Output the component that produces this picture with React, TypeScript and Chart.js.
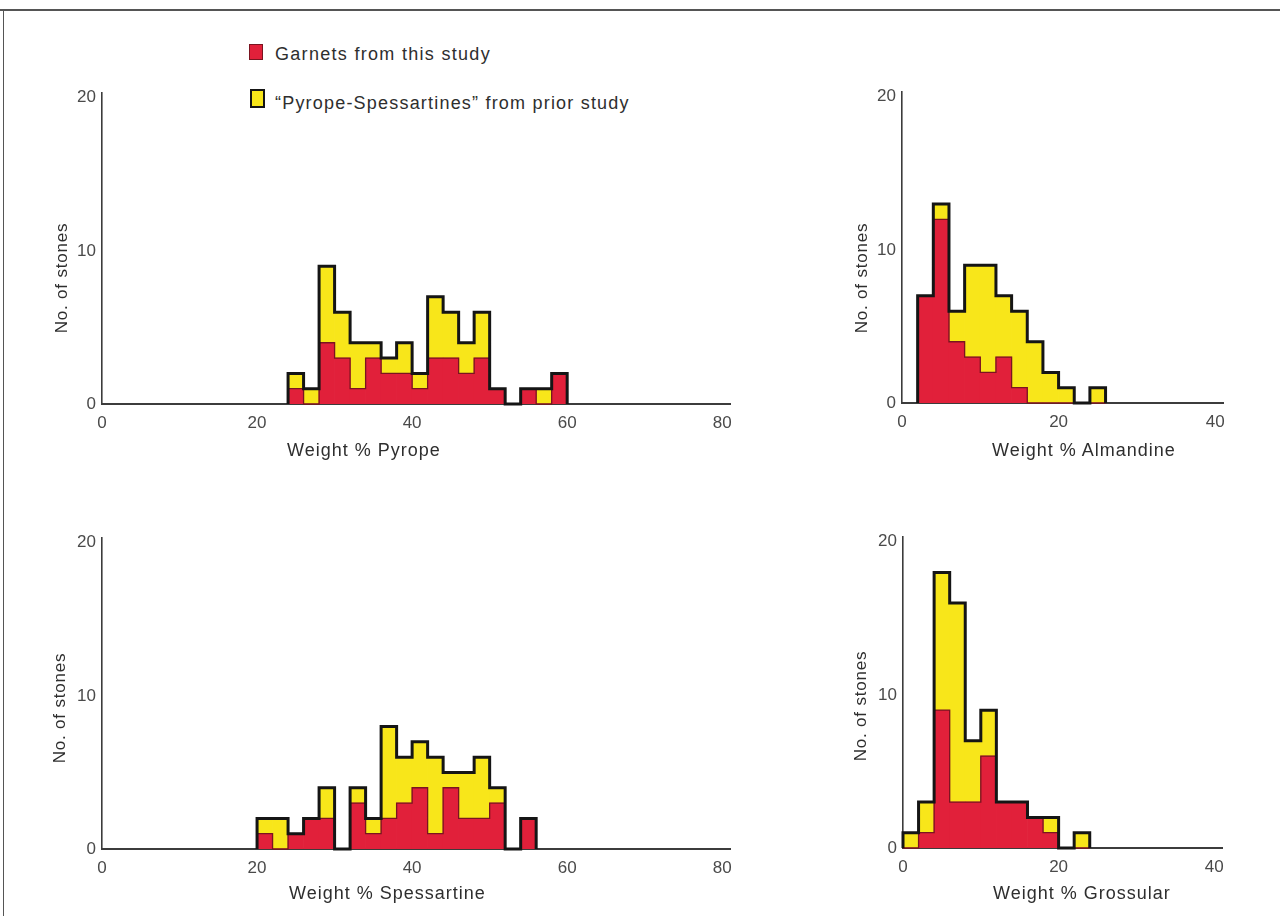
import React, { useEffect, useRef } from "react";
import { Chart, registerables } from "chart.js";

Chart.register(...registerables);

// ---- data (counts per 2 wt% bin) ----
const BIN_WIDTH = 2;

const pyropeBinStart = 24;
const pyropeThisStudy = [1, 0, 4, 3, 1, 3, 2, 2, 1, 3, 3, 2, 3, 1, 0, 1, 0, 2];
const pyropePriorStudy = [1, 1, 5, 3, 3, 1, 1, 2, 1, 4, 3, 2, 3, 0, 0, 0, 1, 0];

const almandineBinStart = 2;
const almandineThisStudy = [7, 12, 4, 3, 2, 3, 1, 0, 0, 0, 0, 0];
const almandinePriorStudy = [0, 1, 2, 6, 7, 4, 5, 4, 2, 1, 0, 1];

const spessartineBinStart = 20;
const spessartineThisStudy = [1, 0, 1, 2, 2, 0, 3, 1, 2, 3, 4, 1, 4, 2, 2, 3, 0, 2];
const spessartinePriorStudy = [1, 2, 0, 0, 2, 0, 1, 1, 6, 3, 3, 5, 1, 3, 4, 1, 0, 0];

const grossularBinStart = 0;
const grossularThisStudy = [0, 1, 9, 3, 3, 6, 3, 3, 2, 1, 0, 0];
const grossularPriorStudy = [1, 2, 9, 13, 4, 3, 0, 0, 0, 1, 0, 1];

const wideTicks = [0, 20, 40, 60, 80];
const narrowTicks = [0, 20, 40];
const countTicks = [0, 10, 20];

const legendLabels = ["Garnets from this study", "\u201cPyrope-Spessartines\u201d from prior study"];
const yTitle = "No. of stones";

// ---- styles ----
const RED = "#e1203a";
const YELLOW = "#f8e61a";
const OUTLINE = "#151515";
const RED_EDGE = "#7a1420";
const AXIS = "#3c3c3c";
const TICK = "#4a4a4a";
const FONT = "'Liberation Sans', Arial, sans-serif";

type PanelProps = {
  left: number; top: number; right: number; bottom: number;
  xMax: number; xTicks: number[];
  binStart: number; thisStudy: number[]; prior: number[];
};

const Y_AXIS_W = 50;
const X_AXIS_H = 40;
const PAD_T = 14;
const PAD_R = 24;

function stepPoints(binStart: number, vals: number[]) {
  const pts = [{ x: binStart, y: 0 }];
  vals.forEach((v, i) => pts.push({ x: binStart + BIN_WIDTH * i, y: v }));
  pts.push({ x: binStart + BIN_WIDTH * vals.length, y: 0 });
  return pts;
}

function Panel(p: PanelProps) {
  const ref = useRef<HTMLCanvasElement>(null);
  const w = Y_AXIS_W + (p.right - p.left) + PAD_R;
  const h = PAD_T + (p.bottom - p.top) + X_AXIS_H;
  useEffect(() => {
    if (!ref.current) return;
    const centers = p.thisStudy.map((_, i) => p.binStart + BIN_WIDTH * (i + 0.5));
    const totals = p.thisStudy.map((v, i) => v + p.prior[i]);
    const chart = new Chart(ref.current, {
      type: "bar",
      data: {
        datasets: [
          {
            type: "line", label: "outline", data: stepPoints(p.binStart, totals) as any,
            stepped: "before", borderColor: OUTLINE, borderWidth: 3, pointRadius: 0,
            fill: false, stack: "outline", order: 0, clip: false as any,
            borderJoinStyle: "miter", borderCapStyle: "butt",
          } as any,
          {
            type: "line", label: "edge", data: stepPoints(p.binStart, p.thisStudy) as any,
            stepped: "before", borderColor: RED_EDGE, borderWidth: 1.3, pointRadius: 0,
            fill: false, stack: "edge", order: 1, clip: false as any,
            borderJoinStyle: "miter",
          } as any,
          {
            type: "bar", label: legendLabels[0],
            data: centers.map((x, i) => ({ x, y: p.thisStudy[i] })) as any,
            backgroundColor: RED, borderWidth: 0, barPercentage: 1, categoryPercentage: 1,
            stack: "bars", order: 2,
          },
          {
            type: "bar", label: legendLabels[1],
            data: centers.map((x, i) => ({ x, y: p.prior[i] })) as any,
            backgroundColor: YELLOW, borderWidth: 0, barPercentage: 1, categoryPercentage: 1,
            stack: "bars", order: 3,
          },
        ],
      },
      options: {
        animation: false,
        responsive: false,
        devicePixelRatio: 1,
        layout: { padding: { top: PAD_T, right: PAD_R, left: 0, bottom: 0 } },
        plugins: { legend: { display: false }, tooltip: { enabled: false } },
        scales: {
          x: {
            type: "linear", min: 0, max: p.xMax, offset: false,
            grid: { display: false, drawTicks: false, tickLength: 0, offset: false },
            border: { display: true, color: AXIS, width: 2 },
            ticks: { color: TICK, font: { family: FONT, size: 17 }, padding: 9, maxRotation: 0, autoSkip: false },
            afterBuildTicks: (axis: any) => { axis.ticks = p.xTicks.map((v) => ({ value: v })); },
            afterFit: (axis: any) => { axis.height = X_AXIS_H; },
          },
          y: {
            type: "linear", min: 0, max: 20.3, stacked: true,
            grid: { display: false, drawTicks: false, tickLength: 0 },
            border: { display: true, color: AXIS, width: 1.6 },
            ticks: { color: TICK, font: { family: FONT, size: 17 }, padding: 6, autoSkip: false },
            afterBuildTicks: (axis: any) => { axis.ticks = countTicks.map((v) => ({ value: v })); },
            afterFit: (axis: any) => { axis.width = Y_AXIS_W; },
          },
        },
      },
    });
    return () => chart.destroy();
  }, []);
  return (
    <canvas
      ref={ref}
      width={w}
      height={h}
      style={{ position: "absolute", left: p.left - Y_AXIS_W, top: p.top - PAD_T, width: w, height: h }}
    />
  );
}

const textBase: React.CSSProperties = {
  position: "absolute", fontFamily: FONT, color: "#2e2e2e", whiteSpace: "nowrap",
  fontSize: 18, letterSpacing: "1px", lineHeight: "20px",
};

function XTitle({ x, y, text }: { x: number; y: number; text: string }) {
  return <div style={{ ...textBase, left: x, top: y - 10 }}>{text}</div>;
}

function YTitle({ x, y }: { x: number; y: number }) {
  return (
    <div style={{ ...textBase, fontSize: 17, letterSpacing: "0.8px", left: x, top: y, transform: "translate(-50%, -50%) rotate(-90deg)" }}>
      {yTitle}
    </div>
  );
}

export default function App() {
  return (
    <div style={{ position: "fixed", left: 0, top: 0, width: 1280, height: 916, background: "#fff", overflow: "hidden" }}>
      <div style={{ position: "absolute", left: 0, top: 9, width: 1280, height: 0, borderTop: "2px solid #555" }} />
      <div style={{ position: "absolute", left: 3, top: 9, width: 0, height: 907, borderLeft: "1.5px solid #555" }} />

      <div style={{ position: "absolute", left: 249, top: 44, width: 14, height: 16, background: RED, border: "1px solid #7a1420", boxSizing: "border-box" }} />
      <div style={{ ...textBase, fontSize: 18, letterSpacing: "1.3px", left: 275, top: 44 }}>{legendLabels[0]}</div>
      <div style={{ position: "absolute", left: 250, top: 89, width: 15, height: 19, background: YELLOW, border: "2.5px solid #151515", boxSizing: "border-box" }} />
      <div style={{ ...textBase, fontSize: 18, letterSpacing: "1.2px", left: 275, top: 93 }}>{legendLabels[1]}</div>

      <Panel left={102} top={91} right={730} bottom={404} xMax={81} xTicks={wideTicks}
        binStart={pyropeBinStart} thisStudy={pyropeThisStudy} prior={pyropePriorStudy} />
      <Panel left={902} top={90} right={1223} bottom={403} xMax={41} xTicks={narrowTicks}
        binStart={almandineBinStart} thisStudy={almandineThisStudy} prior={almandinePriorStudy} />
      <Panel left={102} top={536} right={730} bottom={849} xMax={81} xTicks={wideTicks}
        binStart={spessartineBinStart} thisStudy={spessartineThisStudy} prior={spessartinePriorStudy} />
      <Panel left={903} top={535} right={1222} bottom={848} xMax={41} xTicks={narrowTicks}
        binStart={grossularBinStart} thisStudy={grossularThisStudy} prior={grossularPriorStudy} />

      <XTitle x={287} y={450} text="Weight % Pyrope" />
      <XTitle x={992} y={450} text="Weight % Almandine" />
      <XTitle x={289} y={893} text="Weight % Spessartine" />
      <XTitle x={993} y={893} text="Weight % Grossular" />

      <YTitle x={62} y={278} />
      <YTitle x={862} y={278} />
      <YTitle x={60} y={708} />
      <YTitle x={861} y={706} />
    </div>
  );
}
